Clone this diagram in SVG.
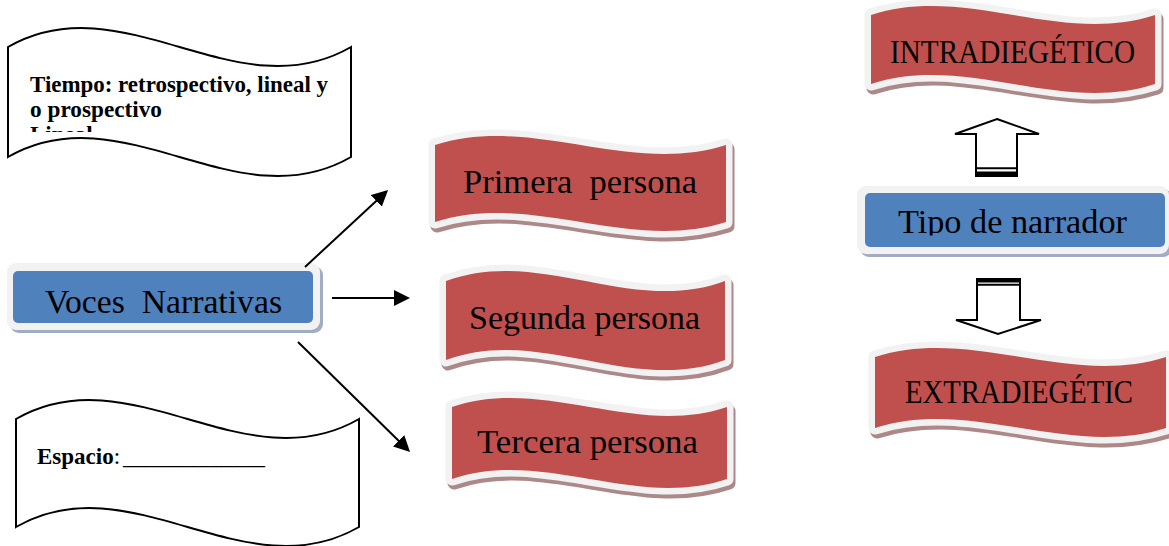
<svg xmlns="http://www.w3.org/2000/svg" width="1169" height="546" viewBox="0 0 1169 546">
<defs>
<style>
.scroll{fill:#fff;stroke:#000;stroke-width:2;stroke-linejoin:miter}
.bold{font-family:"Liberation Serif",serif;font-weight:bold;font-size:23px;fill:#000}
.norm{font-family:"Liberation Serif",serif;font-size:23px;fill:#000}
.lbl{font-family:"Liberation Serif",serif;font-size:33px;fill:#000;white-space:pre}
.rshadow{fill:#ad8888;stroke:#ad8888;stroke-width:13;stroke-linejoin:round}
.rframe{fill:#f2f2f2;stroke:#f2f2f2;stroke-width:13;stroke-linejoin:round}
.red{fill:#c0504d}
.bshadow{fill:#a1adc0}
.bframe{fill:#f2f2f2}
.blue{fill:#4f81bd}
.conn{stroke:#000;stroke-width:2;fill:none;marker-end:url(#ah)}
.block{fill:#fff;stroke:#000;stroke-width:2;stroke-linejoin:miter}
</style>
<marker id="ah" markerUnits="userSpaceOnUse" markerWidth="18" markerHeight="16" refX="5" refY="8" orient="auto">
<path d="M0,0 L16,8 L0,16 Z" fill="#000"/>
</marker>
<clipPath id="clipT"><rect x="0" y="0" width="360" height="132"/></clipPath>
<clipPath id="clipTipo"><rect x="860" y="190" width="309" height="45.5"/></clipPath>
</defs>

<g id="tiempo">
<path class="scroll" d="M8,47 C122.3,-19 236.7,113 351,47 L351,157 C236.7,223 122.3,91 8,157 Z"/>
<g clip-path="url(#clipT)">
<text class="bold" x="30" y="92" textLength="298" lengthAdjust="spacingAndGlyphs">Tiempo: retrospectivo, lineal y</text>
<text class="bold" x="30" y="116.5" textLength="132" lengthAdjust="spacingAndGlyphs">o prospectivo</text>
<text class="bold" x="30" y="141.5">Lineal</text>
</g>
</g>

<g id="espacio">
<path class="scroll" d="M16,419 C130.3,353 244.7,485 359,419 L359,527 C244.7,593 130.3,461 16,527 Z"/>
<text x="37" y="464"><tspan class="bold">Espacio</tspan><tspan class="norm">:</tspan></text>
<text class="norm" x="123" y="464" textLength="142" lengthAdjust="spacingAndGlyphs">_____________</text>
</g>

<g id="voces">
<rect class="bshadow" x="10" y="266" width="313" height="67" rx="9"/>
<rect class="bframe" x="7" y="263" width="313" height="67" rx="9"/>
<rect class="blue" x="13" y="271" width="300" height="52" rx="5"/>
<text class="lbl" x="45" y="313" textLength="237" lengthAdjust="spacingAndGlyphs" xml:space="preserve">Voces  Narrativas</text>
</g>

<g id="primera">
<path class="rshadow" transform="translate(2,4)" d="M435,145 C532,114 629,176 726,145 L726,222 C629,253 532,191 435,222 Z"/>
<path class="rframe" d="M435,145 C532,114 629,176 726,145 L726,222 C629,253 532,191 435,222 Z"/>
<path class="red" d="M435,145 C532,114 629,176 726,145 L726,222 C629,253 532,191 435,222 Z"/>
<text class="lbl" x="463" y="193" textLength="234" lengthAdjust="spacingAndGlyphs" xml:space="preserve">Primera  persona</text>
</g>

<g id="segunda">
<path class="rshadow" transform="translate(2,4)" d="M446,281 C539,246 632,316 725,281 L725,360 C632,395 539,325 446,360 Z"/>
<path class="rframe" d="M446,281 C539,246 632,316 725,281 L725,360 C632,395 539,325 446,360 Z"/>
<path class="red" d="M446,281 C539,246 632,316 725,281 L725,360 C632,395 539,325 446,360 Z"/>
<text class="lbl" x="469" y="329" textLength="231" lengthAdjust="spacingAndGlyphs">Segunda persona</text>
</g>

<g id="tercera">
<path class="rshadow" transform="translate(2,4)" d="M452,407 C543.7,376 635.3,438 727,407 L727,479 C635.3,510 543.7,448 452,479 Z"/>
<path class="rframe" d="M452,407 C543.7,376 635.3,438 727,407 L727,479 C635.3,510 543.7,448 452,479 Z"/>
<path class="red" d="M452,407 C543.7,376 635.3,438 727,407 L727,479 C635.3,510 543.7,448 452,479 Z"/>
<text class="lbl" x="477" y="453" textLength="221" lengthAdjust="spacingAndGlyphs">Tercera persona</text>
</g>

<g id="intradiegetico">
<path class="rshadow" transform="translate(2,4)" d="M871,15 C965.7,-16 1060.3,46 1155,15 L1155,84 C1060.3,115 965.7,53 871,84 Z"/>
<path class="rframe" d="M871,15 C965.7,-16 1060.3,46 1155,15 L1155,84 C1060.3,115 965.7,53 871,84 Z"/>
<path class="red" d="M871,15 C965.7,-16 1060.3,46 1155,15 L1155,84 C1060.3,115 965.7,53 871,84 Z"/>
<text class="lbl" x="890" y="63" textLength="245" lengthAdjust="spacingAndGlyphs">INTRADIEGÉTICO</text>
</g>

<g id="tipo">
<rect class="bshadow" x="860" y="189" width="312" height="68" rx="9"/>
<rect class="bframe" x="857" y="186" width="312" height="68" rx="9"/>
<rect class="blue" x="865" y="193" width="300" height="54" rx="5"/>
<text class="lbl" x="898" y="233" textLength="229" lengthAdjust="spacingAndGlyphs" clip-path="url(#clipTipo)">Tipo de narrador</text>
</g>

<g id="extradiegetico">
<path class="rshadow" transform="translate(2,4)" d="M875,357 C972,326 1069,388 1166,357 L1166,428 C1069,459 972,397 875,428 Z"/>
<path class="rframe" d="M875,357 C972,326 1069,388 1166,357 L1166,428 C1069,459 972,397 875,428 Z"/>
<path class="red" d="M875,357 C972,326 1069,388 1166,357 L1166,428 C1069,459 972,397 875,428 Z"/>
<text class="lbl" x="905" y="403" textLength="228" lengthAdjust="spacingAndGlyphs">EXTRADIEGÉTIC</text>
</g>

<g id="connectors">
<line class="conn" x1="305" y1="267" x2="380" y2="197.5"/>
<line class="conn" x1="332" y1="298" x2="399" y2="298"/>
<line class="conn" x1="298" y1="342" x2="402.2" y2="444.3"/>
<g id="up-arrow">
<polygon class="block" points="997,119 1039,134 1017,134 1017,176 976,176 976,134 955,134"/>
<line x1="976" y1="168.3" x2="1017" y2="168.3" stroke="#000" stroke-width="2"/>
<rect x="976" y="171.5" width="41" height="5" fill="#000"/>
</g>
<g id="down-arrow">
<polygon class="block" points="977,279 1020,279 1020,320 1041,320 998,334 956,320 977,320"/>
<rect x="976" y="278" width="45" height="4.5" fill="#000"/>
<line x1="977" y1="284.8" x2="1020" y2="284.8" stroke="#000" stroke-width="2"/>
</g>
</g>
</svg>
